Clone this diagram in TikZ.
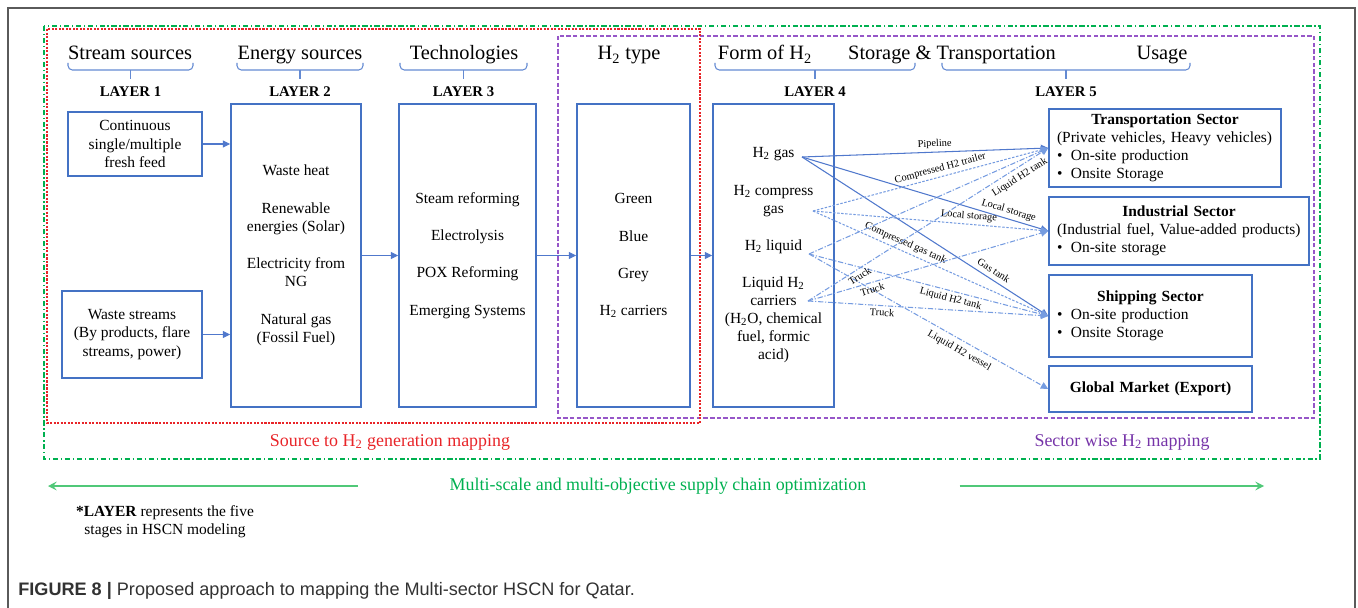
\documentclass[tikz,border=0pt]{standalone}
\usepackage{fontspec}
\setmainfont{Liberation Serif}
\newfontfamily\capfont{Liberation Sans}
\usetikzlibrary{arrows.meta,positioning,calc}

\definecolor{boxblue}{RGB}{68,114,196}
\definecolor{lineblue}{RGB}{80,120,204}
\definecolor{dotblue}{RGB}{118,156,224}
\definecolor{braceblue}{RGB}{100,138,210}
\definecolor{mapred}{RGB}{232,36,40}
\definecolor{mappurple}{RGB}{150,86,200}
\definecolor{textpurple}{RGB}{118,52,168}
\definecolor{optgreen}{RGB}{0,176,80}
\definecolor{arrgreen}{RGB}{80,200,120}
\definecolor{framegray}{RGB}{90,90,90}
\definecolor{captext}{RGB}{50,50,50}

\newcommand{\Htwo}{H\textsubscript{2}}
\newcommand{\headfont}{\fontsize{11.6}{14}\selectfont}
\newcommand{\boxfont}{\fontsize{8.8}{10.3}\selectfont}
\newcommand{\layerfont}{\fontsize{8.4}{10}\selectfont\bfseries}
\newcommand{\edgefont}{\fontsize{5.9}{7}\selectfont}
\newcommand{\mapfont}{\fontsize{10.2}{12}\selectfont}

\begin{document}
\begin{tikzpicture}
  [
  x=0.02cm, y=-0.02cm,
  font=\boxfont,
  box/.style={draw=boxblue, line width=0.9pt, align=center, inner sep=0pt},
  sector/.style={box, align=left, inner xsep=0.16cm},
  head/.style={font=\headfont, anchor=base, inner sep=0pt},
  layer/.style={font=\layerfont, anchor=base, inner sep=0pt},
  flow/.style={draw=lineblue, line width=0.6pt, -{Triangle[length=4.2pt,width=4pt]}},
  compline/.style={flow, draw=dotblue, dash pattern=on 1.4pt off 0.9pt},
  liqline/.style={flow, draw=dotblue, dash pattern=on 3pt off 1pt on 0.7pt off 1pt},
  edgelabel/.style={font=\edgefont, sloped, inner sep=1.6pt},
  brace/.style={draw=braceblue, line width=0.6pt, rounded corners=2.5pt},
  optarrow/.style={draw=arrgreen, line width=0.7pt, -{Stealth[length=5pt,width=5pt,inset=2pt]}},
  ]

  \useasboundingbox (0,0) rectangle (1358,608);

  % page frame
  \draw[framegray, line width=1.1pt] (8,608) -- (8,8) -- (1355,8) -- (1355,608);

  % mapping regions
  \draw[optgreen, line width=0.7pt, dash pattern=on 3pt off 1.5pt on 0.8pt off 1.5pt] (44,26) rectangle (1320,459);
  \draw[mappurple, line width=0.9pt, dash pattern=on 2.5pt off 1.3pt] (558,36) rectangle (1314,418);
  \draw[mapred, line width=0.9pt, dash pattern=on 1.2pt off 0.8pt] (47,29) rectangle (700,423);

  % headings
  \node[head] (hstream) at (130,60) {Stream sources};
  \node[head] (henergy) at (300,60) {Energy sources};
  \node[head] (htech) at (464,60) {Technologies};
  \node[head] (htype) at (629,60) {\Htwo\ type};
  \node[head] (hform) at (765,60) {Form of \Htwo};
  \node[head] (hstore) at (952,60) {Storage \& Transportation};
  \node[head] (husage) at (1162,60) {Usage};

  \foreach \xa/\xb in {68/193, 237/363, 400/527, 715/915, 942/1190} {
    \draw[brace] (\xa,63) |- (\xb,70) -- (\xb,63);
    \draw[brace] ({(\xa+\xb)/2},70) -- ({(\xa+\xb)/2},79);
  }

  \foreach \n/\x in {1/130.5, 2/300, 3/463.5, 4/815, 5/1066} {
    \node[layer] (layer\n) at (\x,96) {LAYER \n};
  }

  % layer boxes
  \node[box, minimum width=2.68cm, minimum height=1.28cm] (feed) at (135,144)
    {Continuous\\single/multiple\\fresh feed};
  \node[box, minimum width=2.8cm, minimum height=1.74cm] (waste) at (132,334.5)
    {Waste streams\\(By products, flare\\streams, power)};
  \node[box, minimum width=2.6cm, minimum height=6.06cm] (energy) at (296,255.5)
    {Waste heat\\[11pt]Renewable\\energies (Solar)\\[11pt]Electricity from\\NG\\[11pt]Natural gas\\(Fossil Fuel)};
  \node[box, minimum width=2.74cm, minimum height=6.06cm] (tech) at (467.5,255.5)
    {Steam reforming\\[11pt]Electrolysis\\[11pt]POX Reforming\\[11pt]Emerging Systems};
  \node[box, minimum width=2.26cm, minimum height=6.06cm] (type) at (633.5,255.5)
    {Green\\[11pt]Blue\\[11pt]Grey\\[11pt]\Htwo\ carriers};
  \node[box, minimum width=2.42cm, minimum height=6.06cm] (form) at (773.5,255.5)
    {\Htwo\ gas\\[11pt]\Htwo\ compress\\gas\\[11pt]\Htwo\ liquid\\[10.5pt]Liquid \Htwo\\carriers\\(\Htwo O, chemical\\fuel, formic\\acid)};

  % sectors
  \node[sector, text width=4.32cm, minimum height=1.56cm] (trans) at (1165,148)
    {\makebox[\hsize]{\textbf{Transportation Sector}}\\
     (Private vehicles, Heavy vehicles)\\
     \textbullet\hspace{4.8pt}On-site production\\
     \textbullet\hspace{4.8pt}Onsite Storage};
  \node[sector, text width=4.88cm, minimum height=1.36cm] (indus) at (1179,231)
    {\makebox[\hsize]{\textbf{Industrial Sector}}\\
     (Industrial fuel, Value-added products)\\
     \textbullet\hspace{4.8pt}On-site storage};
  \node[sector, text width=3.74cm, minimum height=1.64cm] (ship) at (1150.5,316)
    {\makebox[\hsize]{\textbf{Shipping Sector}}\\
     \textbullet\hspace{4.8pt}On-site production\\
     \textbullet\hspace{4.8pt}Onsite Storage};
  \node[sector, text width=3.74cm, minimum height=0.92cm] (market) at (1150.5,389)
    {\makebox[\hsize]{\textbf{Global Market (Export)}}};

  % flow between layers
  \draw[flow] (feed.east) -- (feed.east -| energy.west);
  \draw[flow] (waste.east) -- (waste.east -| energy.west);
  \draw[flow] (energy.east) -- (tech.west);
  \draw[flow] (tech.east) -- (type.west);
  \draw[flow] (type.east) -- (form.west);

  % forms of H2 to sectors
  \coordinate (gasE) at (802,157);
  \coordinate (compE) at (813,211);
  \coordinate (liqE) at (809,254);
  \coordinate (carE) at (808,301);

  \draw[flow] (gasE) -- node[edgelabel, above, pos=0.54] {Pipeline} (trans.west);
  \draw[flow] (gasE) -- node[edgelabel, above, pos=0.83] {Local storage} (indus.west);
  \draw[flow] (gasE) -- node[edgelabel, above=1pt, pos=0.76] {Gas tank} (ship.west);

  \draw[compline] (compE) -- node[edgelabel, above, pos=0.55] {Compressed H2 trailer} (trans.west);
  \draw[compline] (compE) -- node[edgelabel, above, pos=0.66] {Local storage} (indus.west);
  \draw[compline] (compE) -- node[edgelabel, above, pos=0.38] {Compressed gas tank} (ship.west);

  \draw[liqline] (liqE) -- (trans.west);
  \draw[liqline] (liqE) -- node[edgelabel, below, pos=0.6] {Liquid H2 tank} (ship.west);
  \draw[liqline] (liqE) -- node[edgelabel, below=1.5pt, pos=0.65] {Liquid H2 vessel} (market.west);

  \draw[liqline] (carE) -- node[edgelabel, below, pos=0.2] {Truck}
    node[edgelabel, below=1pt, pos=0.86] {Liquid H2 tank} (trans.west);
  \draw[liqline] (carE) -- node[edgelabel, below, pos=0.26] {Truck} (indus.west);
  \draw[liqline] (carE) -- node[edgelabel, below, pos=0.31] {Truck} (ship.west);

  % region captions
  \node[font=\mapfont, text=mapred] (srcmap) at (390,442) {Source to \Htwo\ generation mapping};
  \node[font=\mapfont, text=textpurple] (secmap) at (1122,442) {Sector wise \Htwo\ mapping};

  \node[font=\mapfont, text=optgreen] (opt) at (658,486)
    {Multi-scale and multi-objective supply chain optimization};
  \coordinate (optL) at (48,486);
  \coordinate (optR) at (1264,486);
  \draw[optarrow] ($(opt.west)+(-86,0)$) -- (optL);
  \draw[optarrow] ($(opt.east)+(87,0)$) -- (optR);

  \node[align=center] (note) at (165,522)
    {\textbf{*LAYER} represents the five\\stages in HSCN modeling};

  \node[anchor=base west, inner sep=0pt, text=captext,
        font=\capfont\fontsize{10.3}{12}\selectfont] (caption) at (18,595)
    {\textbf{FIGURE 8 |} Proposed approach to mapping the Multi-sector HSCN for Qatar.};

\end{tikzpicture}
\end{document}
